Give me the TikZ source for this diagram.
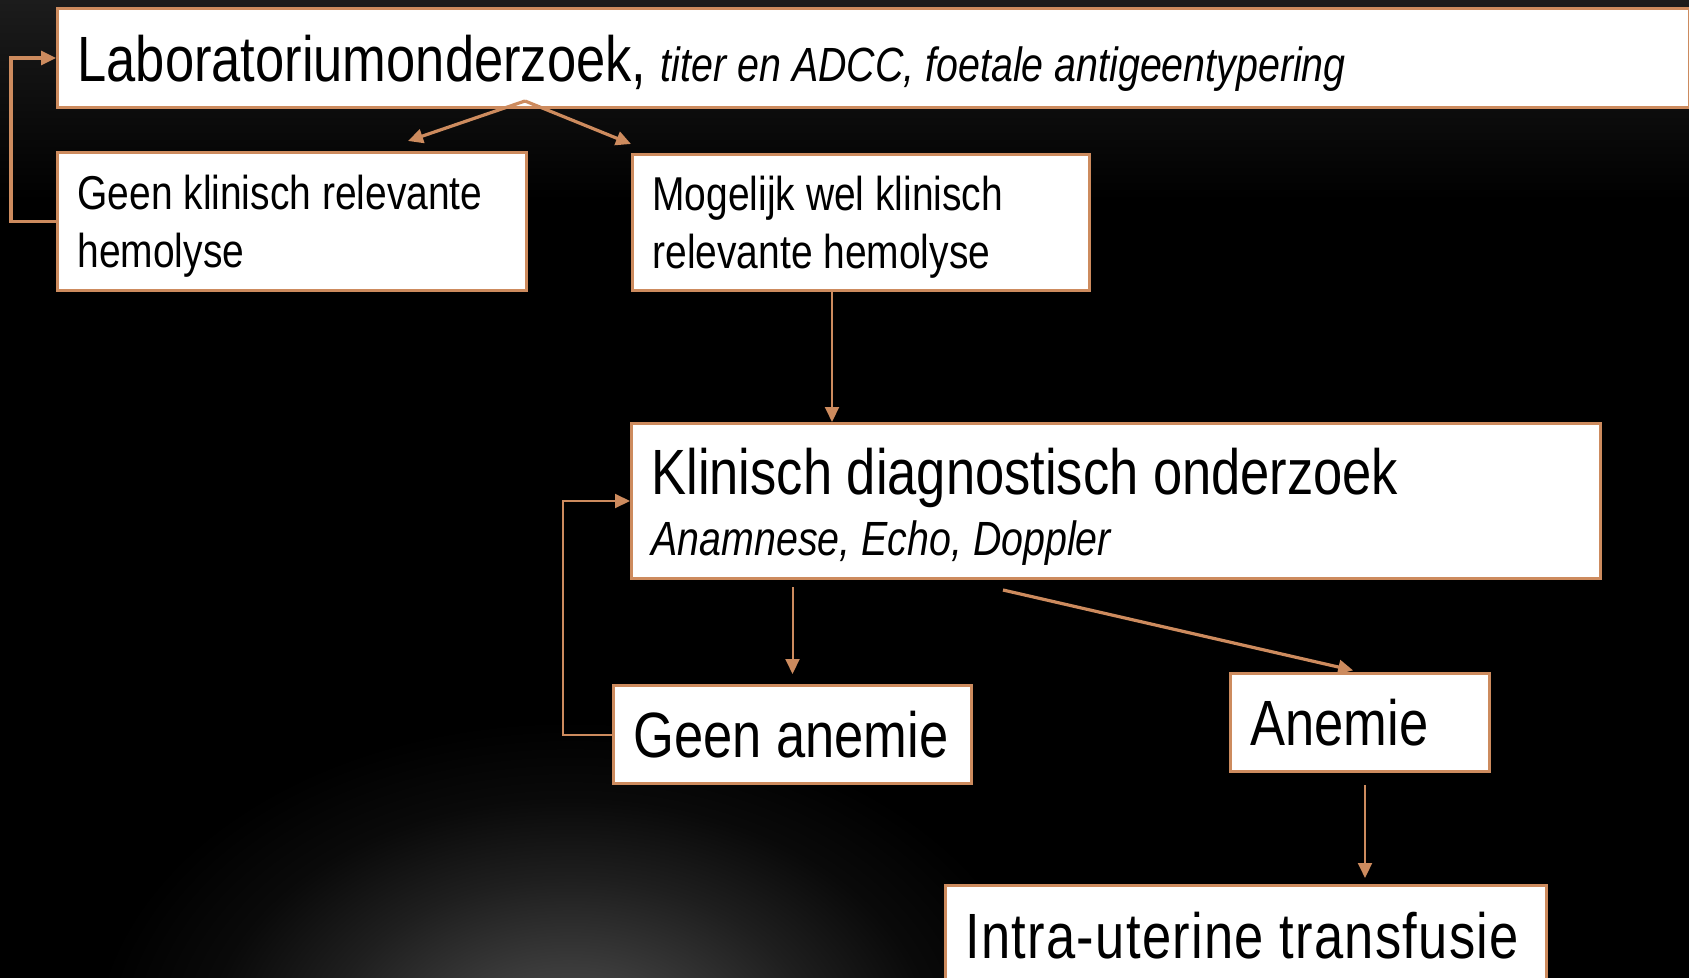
\documentclass[tikz,border=0pt]{standalone}
\usepackage{fontspec}
\setmainfont{Liberation Sans}[FakeStretch=0.82]
\usepackage{xcolor}
\definecolor{hdnline}{HTML}{CD8B5E}
\definecolor{hdntop}{HTML}{1C1C1C}
\definecolor{hdnglow}{HTML}{505050}
\usepackage{tikz}
\usetikzlibrary{arrows.meta,calc}
\pgfdeclareradialshading{hdnglowshade}{\pgfpoint{0bp}{0bp}}{color(0bp)=(hdnglow); color(6bp)=(hdnglow!75!black); color(13bp)=(hdnglow!38!black); color(19bp)=(hdnglow!12!black); color(25bp)=(black); color(50bp)=(black)}
\tikzset{
  hdnbox/.style={draw=hdnline,line width=1.5pt,fill=white,text=black,anchor=north west,inner xsep=10pt,inner ysep=0pt,align=flush left},
  hdnflow/.style={draw=hdnline,line width=1pt,-{Triangle[length=7.5pt,width=7pt]}},
  hdnthick/.style={hdnflow,line width=1.6pt},
  hdnbig/.style={font=\fontsize{32}{38}\selectfont,text depth=0pt},
  hdnmid/.style={font=\fontsize{23.75}{28.75}\selectfont,text depth=28.75pt},
}

\begin{document}
\begin{tikzpicture}[x=0.5pt,y=-0.5pt]
\useasboundingbox (0,0) rectangle (1689,978);
\fill[black] (0,0) rectangle (1689,978);
\shade[top color=hdntop,bottom color=black] (0,0) rectangle (1689,200);
\begin{scope}
\clip (0,0) rectangle (1689,978);
\shade[shading=hdnglowshade] (570,1050) ellipse (480 and 330);
\end{scope}

\node[hdnbox,hdnbig,text width=796pt,minimum height=49.5pt](lab) at (56,7) {Laboratoriumonderzoek, {\fontsize{24}{29}\selectfont\itshape titer en ADCC, foetale antigeentypering}};
\node[hdnbox,hdnmid,text width=214.5pt,minimum height=69pt](gk) at (56,151) {Geen klinisch relevante\\hemolyse};
\node[hdnbox,hdnmid,text width=208.5pt,minimum height=68pt](mog) at (631,153) {Mogelijk wel klinisch\\relevante hemolyse};
\node[hdnbox,text width=464.5pt,minimum height=77.5pt,text depth=30pt](kdo) at (630,422) {\fontsize{32}{38}\selectfont Klinisch diagnostisch onderzoek\\[5.5pt]\fontsize{24}{30}\selectfont\itshape Anamnese, Echo, Doppler};
\node[hdnbox,hdnbig,text width=159pt,minimum height=49pt](ga) at (612,684) {Geen anemie};
\node[hdnbox,hdnbig,text width=109.5pt,minimum height=49pt](an) at (1229,672) {Anemie};
\node[hdnbox,hdnbig,text width=280.5pt,minimum height=50pt](iut) at (944,884) {\addfontfeature{LetterSpace=2}Intra-uterine transfusie};

\coordinate (split) at ($(lab.south west)+(469,-8)$);
\coordinate (gkin) at ($(gk.north east)+(-120,-10)$);
\coordinate (mogin) at ($(mog.north west)+(0,-9)$);
\coordinate (mogout) at ($(mog.south)+(-29,0)$);
\coordinate (kdoout) at ($(kdo.south)+(-113,10)$);
\coordinate (anout) at ($(an.south)+(5,0)$);
\draw[hdnthick](split)--(gkin);
\draw[hdnthick](split)--(mogin);
\draw[hdnthick](gk.west)--++(-45,0)|-(lab.west);
\draw[hdnflow](mogout)--(mogout|-kdo.north);
\draw[hdnflow,shorten <=3.5pt,shorten >=5pt](kdo.south-|ga.north)--(ga.north);
\draw[hdnthick,shorten >=3.5pt](kdoout)--(an.north);
\draw[hdnflow](ga.west)--++(-49,0)|-(kdo.west);
\draw[hdnflow,shorten <=6pt,shorten >=3pt](anout)--(anout|-iut.north);
\end{tikzpicture}
\end{document}
